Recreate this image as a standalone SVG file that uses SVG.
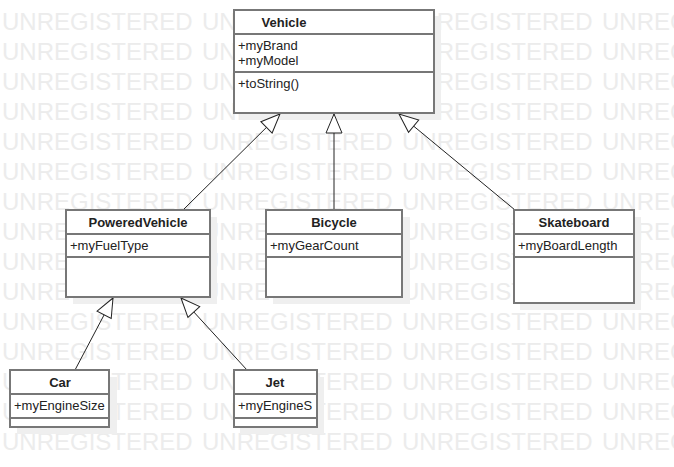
<svg xmlns="http://www.w3.org/2000/svg" width="674" height="467" viewBox="0 0 674 467">
<defs>
<style>
.wm{font-family:"Liberation Sans",Arial,sans-serif;font-size:24px;fill:#ececec}
.box{fill:#fff;stroke:#777;stroke-width:2}
.sh{fill:#efefef}
.sep{stroke:#777;stroke-width:2}
.t{font-family:"Liberation Sans",Arial,sans-serif;font-size:13px;font-weight:bold;fill:#222;text-anchor:middle}
.a{font-family:"Liberation Sans",Arial,sans-serif;font-size:13px;fill:#222}
.ln{stroke:#222;stroke-width:1;fill:none;marker-end:url(#gen)}
</style>
<marker id="gen" markerUnits="userSpaceOnUse" markerWidth="22" markerHeight="20" viewBox="-20 -10 22 20" refX="0" refY="0" orient="auto" overflow="visible">
<path d="M0,0 L-19,-8 L-19,8 Z" fill="#fff" stroke="#222" stroke-width="1"/>
</marker>
</defs>
<rect width="674" height="467" fill="#fff"/>
<g id="watermark">
<text class="wm" x="2" y="30">UNREGISTERED</text><text class="wm" x="202" y="30">UNREGISTERED</text><text class="wm" x="402" y="30">UNREGISTERED</text><text class="wm" x="602" y="30">UNREGISTERED</text>
<text class="wm" x="2" y="60">UNREGISTERED</text><text class="wm" x="202" y="60">UNREGISTERED</text><text class="wm" x="402" y="60">UNREGISTERED</text><text class="wm" x="602" y="60">UNREGISTERED</text>
<text class="wm" x="2" y="90">UNREGISTERED</text><text class="wm" x="202" y="90">UNREGISTERED</text><text class="wm" x="402" y="90">UNREGISTERED</text><text class="wm" x="602" y="90">UNREGISTERED</text>
<text class="wm" x="2" y="120">UNREGISTERED</text><text class="wm" x="202" y="120">UNREGISTERED</text><text class="wm" x="402" y="120">UNREGISTERED</text><text class="wm" x="602" y="120">UNREGISTERED</text>
<text class="wm" x="2" y="150">UNREGISTERED</text><text class="wm" x="202" y="150">UNREGISTERED</text><text class="wm" x="402" y="150">UNREGISTERED</text><text class="wm" x="602" y="150">UNREGISTERED</text>
<text class="wm" x="2" y="180">UNREGISTERED</text><text class="wm" x="202" y="180">UNREGISTERED</text><text class="wm" x="402" y="180">UNREGISTERED</text><text class="wm" x="602" y="180">UNREGISTERED</text>
<text class="wm" x="2" y="210">UNREGISTERED</text><text class="wm" x="202" y="210">UNREGISTERED</text><text class="wm" x="402" y="210">UNREGISTERED</text><text class="wm" x="602" y="210">UNREGISTERED</text>
<text class="wm" x="2" y="240">UNREGISTERED</text><text class="wm" x="202" y="240">UNREGISTERED</text><text class="wm" x="402" y="240">UNREGISTERED</text><text class="wm" x="602" y="240">UNREGISTERED</text>
<text class="wm" x="2" y="270">UNREGISTERED</text><text class="wm" x="202" y="270">UNREGISTERED</text><text class="wm" x="402" y="270">UNREGISTERED</text><text class="wm" x="602" y="270">UNREGISTERED</text>
<text class="wm" x="2" y="300">UNREGISTERED</text><text class="wm" x="202" y="300">UNREGISTERED</text><text class="wm" x="402" y="300">UNREGISTERED</text><text class="wm" x="602" y="300">UNREGISTERED</text>
<text class="wm" x="2" y="330">UNREGISTERED</text><text class="wm" x="202" y="330">UNREGISTERED</text><text class="wm" x="402" y="330">UNREGISTERED</text><text class="wm" x="602" y="330">UNREGISTERED</text>
<text class="wm" x="2" y="360">UNREGISTERED</text><text class="wm" x="202" y="360">UNREGISTERED</text><text class="wm" x="402" y="360">UNREGISTERED</text><text class="wm" x="602" y="360">UNREGISTERED</text>
<text class="wm" x="2" y="390">UNREGISTERED</text><text class="wm" x="202" y="390">UNREGISTERED</text><text class="wm" x="402" y="390">UNREGISTERED</text><text class="wm" x="602" y="390">UNREGISTERED</text>
<text class="wm" x="2" y="420">UNREGISTERED</text><text class="wm" x="202" y="420">UNREGISTERED</text><text class="wm" x="402" y="420">UNREGISTERED</text><text class="wm" x="602" y="420">UNREGISTERED</text>
<text class="wm" x="2" y="450">UNREGISTERED</text><text class="wm" x="202" y="450">UNREGISTERED</text><text class="wm" x="402" y="450">UNREGISTERED</text><text class="wm" x="602" y="450">UNREGISTERED</text>
</g>
<g id="shadows">
<rect class="sh" x="240" y="16" width="201" height="104"/>
<rect class="sh" x="73" y="217" width="144" height="87"/>
<rect class="sh" x="273" y="217" width="137" height="87"/>
<rect class="sh" x="520" y="217" width="121" height="93"/>
<rect class="sh" x="17" y="377" width="100" height="57"/>
<rect class="sh" x="240" y="377" width="84" height="57"/>
</g>
<g id="connectors">
<line class="ln" x1="183" y1="210" x2="280" y2="114"/>
<line class="ln" x1="334" y1="210" x2="334" y2="114"/>
<line class="ln" x1="515" y1="210" x2="399" y2="114"/>
<line class="ln" x1="75" y1="370" x2="113" y2="298"/>
<line class="ln" x1="247" y1="370" x2="181" y2="298"/>
</g>
<g id="Vehicle">
<rect class="box" x="234" y="10" width="200" height="103"/>
<line class="sep" x1="234" y1="34" x2="434" y2="34"/>
<line class="sep" x1="234" y1="72" x2="434" y2="72"/>
<text class="t" x="284" y="27">Vehicle</text>
<text class="a" x="238" y="50">+myBrand</text>
<text class="a" x="238" y="65">+myModel</text>
<text class="a" x="238" y="88">+toString()</text>
</g>
<g id="PoweredVehicle">
<rect class="box" x="66" y="210" width="144" height="87"/>
<line class="sep" x1="66" y1="234" x2="210" y2="234"/>
<line class="sep" x1="66" y1="257" x2="210" y2="257"/>
<text class="t" x="138" y="227">PoweredVehicle</text>
<text class="a" x="70" y="250">+myFuelType</text>
</g>
<g id="Bicycle">
<rect class="box" x="266" y="210" width="136" height="87"/>
<line class="sep" x1="266" y1="234" x2="402" y2="234"/>
<line class="sep" x1="266" y1="257" x2="402" y2="257"/>
<text class="t" x="334" y="227">Bicycle</text>
<text class="a" x="270" y="250">+myGearCount</text>
</g>
<g id="Skateboard">
<rect class="box" x="514" y="210" width="120" height="93"/>
<line class="sep" x1="514" y1="234" x2="634" y2="234"/>
<line class="sep" x1="514" y1="257" x2="634" y2="257"/>
<text class="t" x="574" y="227">Skateboard</text>
<text class="a" x="518" y="250">+myBoardLength</text>
</g>
<g id="Car">
<rect class="box" x="10" y="370" width="99" height="57"/>
<line class="sep" x1="10" y1="394" x2="109" y2="394"/>
<line class="sep" x1="10" y1="418" x2="109" y2="418"/>
<text class="t" x="60" y="387">Car</text>
<text class="a" x="14" y="410">+myEngineSize</text>
</g>
<g id="Jet">
<rect class="box" x="234" y="370" width="83" height="57"/>
<line class="sep" x1="234" y1="394" x2="317" y2="394"/>
<line class="sep" x1="234" y1="418" x2="317" y2="418"/>
<text class="t" x="275" y="387">Jet</text>
<text class="a" x="238" y="410">+myEngineS</text>
</g>
</svg>
